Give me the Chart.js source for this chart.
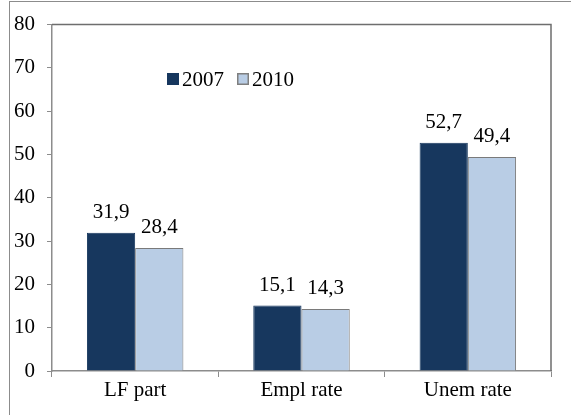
<!DOCTYPE html>
<html>
<head>
<meta charset="utf-8">
<script src="https://cdn.jsdelivr.net/npm/chart.js@4"></script>
<style>
  html, body { margin: 0; padding: 0; background: #fff; }
  #wrap { position: relative; width: 571px; height: 415px; }
</style>
</head>
<body>
<div id="wrap"><canvas id="chart" width="571" height="415"></canvas></div>
<script>
// Chart data
const categories = ['LF part', 'Empl rate', 'Unem rate'];
const seriesNames = ['2007', '2010'];
const values2007 = [31.9, 15.1, 52.7];
const values2010 = [28.4, 14.3, 49.4];
const yTicks = [0, 10, 20, 30, 40, 50, 60, 70, 80];

const DARK = '#17375E';
const LIGHT = '#B9CDE5';
const FONT = '"Liberation Serif", "Times New Roman", serif';
const FONT_SIZE = 21;

// Frame, plot-area box, value labels and the inline legend
const decorPlugin = {
  id: 'decor',
  beforeDraw(chart) {
    const ctx = chart.ctx;
    ctx.save();
    ctx.strokeStyle = '#8c8c8c';
    ctx.lineWidth = 1;
    ctx.strokeRect(9.5, 1.5, 700, 600);
    ctx.restore();
  },
  afterDatasetsDraw(chart) {
    const ctx = chart.ctx;
    const area = chart.chartArea;
    ctx.save();
    // plot area box (top + right)
    ctx.strokeStyle = '#6e6e6e';
    ctx.lineWidth = 1.5;
    ctx.beginPath();
    ctx.moveTo(area.left, area.top);
    ctx.lineTo(area.right, area.top);
    ctx.lineTo(area.right, area.bottom);
    ctx.stroke();

    // value labels
    ctx.fillStyle = '#000';
    ctx.font = FONT_SIZE + 'px ' + FONT;
    ctx.textAlign = 'center';
    ctx.textBaseline = 'alphabetic';
    chart.data.datasets.forEach((ds, i) => {
      chart.getDatasetMeta(i).data.forEach((bar, j) => {
        const txt = ds.data[j].toFixed(1).replace('.', ',');
        ctx.fillText(txt, bar.x, bar.y - 15);
      });
    });

    // legend inside the plot
    const items = [
      { x: 167, color: DARK, border: DARK },
      { x: 237, color: LIGHT, border: '#7f7f7f' }
    ];
    ctx.textAlign = 'left';
    items.forEach((it, i) => {
      ctx.fillStyle = it.color;
      ctx.fillRect(it.x, 73, 12, 12);
      ctx.strokeStyle = it.border;
      ctx.lineWidth = 1.5;
      ctx.strokeRect(it.x + 0.75, 73.75, 10.5, 10.5);
      ctx.fillStyle = '#000';
      ctx.fillText(seriesNames[i], it.x + 15, 86);
    });
    ctx.restore();
  }
};

const ctx = document.getElementById('chart').getContext('2d');
new Chart(ctx, {
  type: 'bar',
  data: {
    labels: categories,
    datasets: [
      {
        label: seriesNames[0],
        data: values2007,
        backgroundColor: DARK,
        borderColor: DARK,
        borderWidth: 1,
        categoryPercentage: 0.58,
        barPercentage: 1
      },
      {
        label: seriesNames[1],
        data: values2010,
        backgroundColor: LIGHT,
        borderColor: '#7a7a7a',
        borderWidth: 1,
        categoryPercentage: 0.58,
        barPercentage: 1
      }
    ]
  },
  options: {
    responsive: false,
    animation: false,
    devicePixelRatio: 1,
    layout: { padding: { left: 0, top: 22, right: 20, bottom: 14 } },
    plugins: {
      legend: { display: false },
      tooltip: { enabled: false }
    },
    scales: {
      x: {
        afterFit(scale) { scale.height = 30; },
        grid: {
          offset: true,
          drawOnChartArea: false,
          tickLength: 6,
          color: '#8c8c8c'
        },
        border: { color: '#8c8c8c', width: 1.5 },
        ticks: {
          color: '#000',
          padding: 1,
          font: { family: FONT, size: FONT_SIZE }
        }
      },
      y: {
        min: 0,
        max: 80,
        afterFit(scale) { scale.width = 52; },
        afterBuildTicks(scale) { scale.ticks = yTicks.map(v => ({ value: v })); },
        grid: {
          drawOnChartArea: false,
          tickLength: 5,
          color: '#8c8c8c'
        },
        border: { color: '#8c8c8c', width: 1.5 },
        ticks: {
          color: '#000',
          padding: 12,
          font: { family: FONT, size: FONT_SIZE }
        }
      }
    }
  },
  plugins: [decorPlugin]
});
</script>
</body>
</html>
